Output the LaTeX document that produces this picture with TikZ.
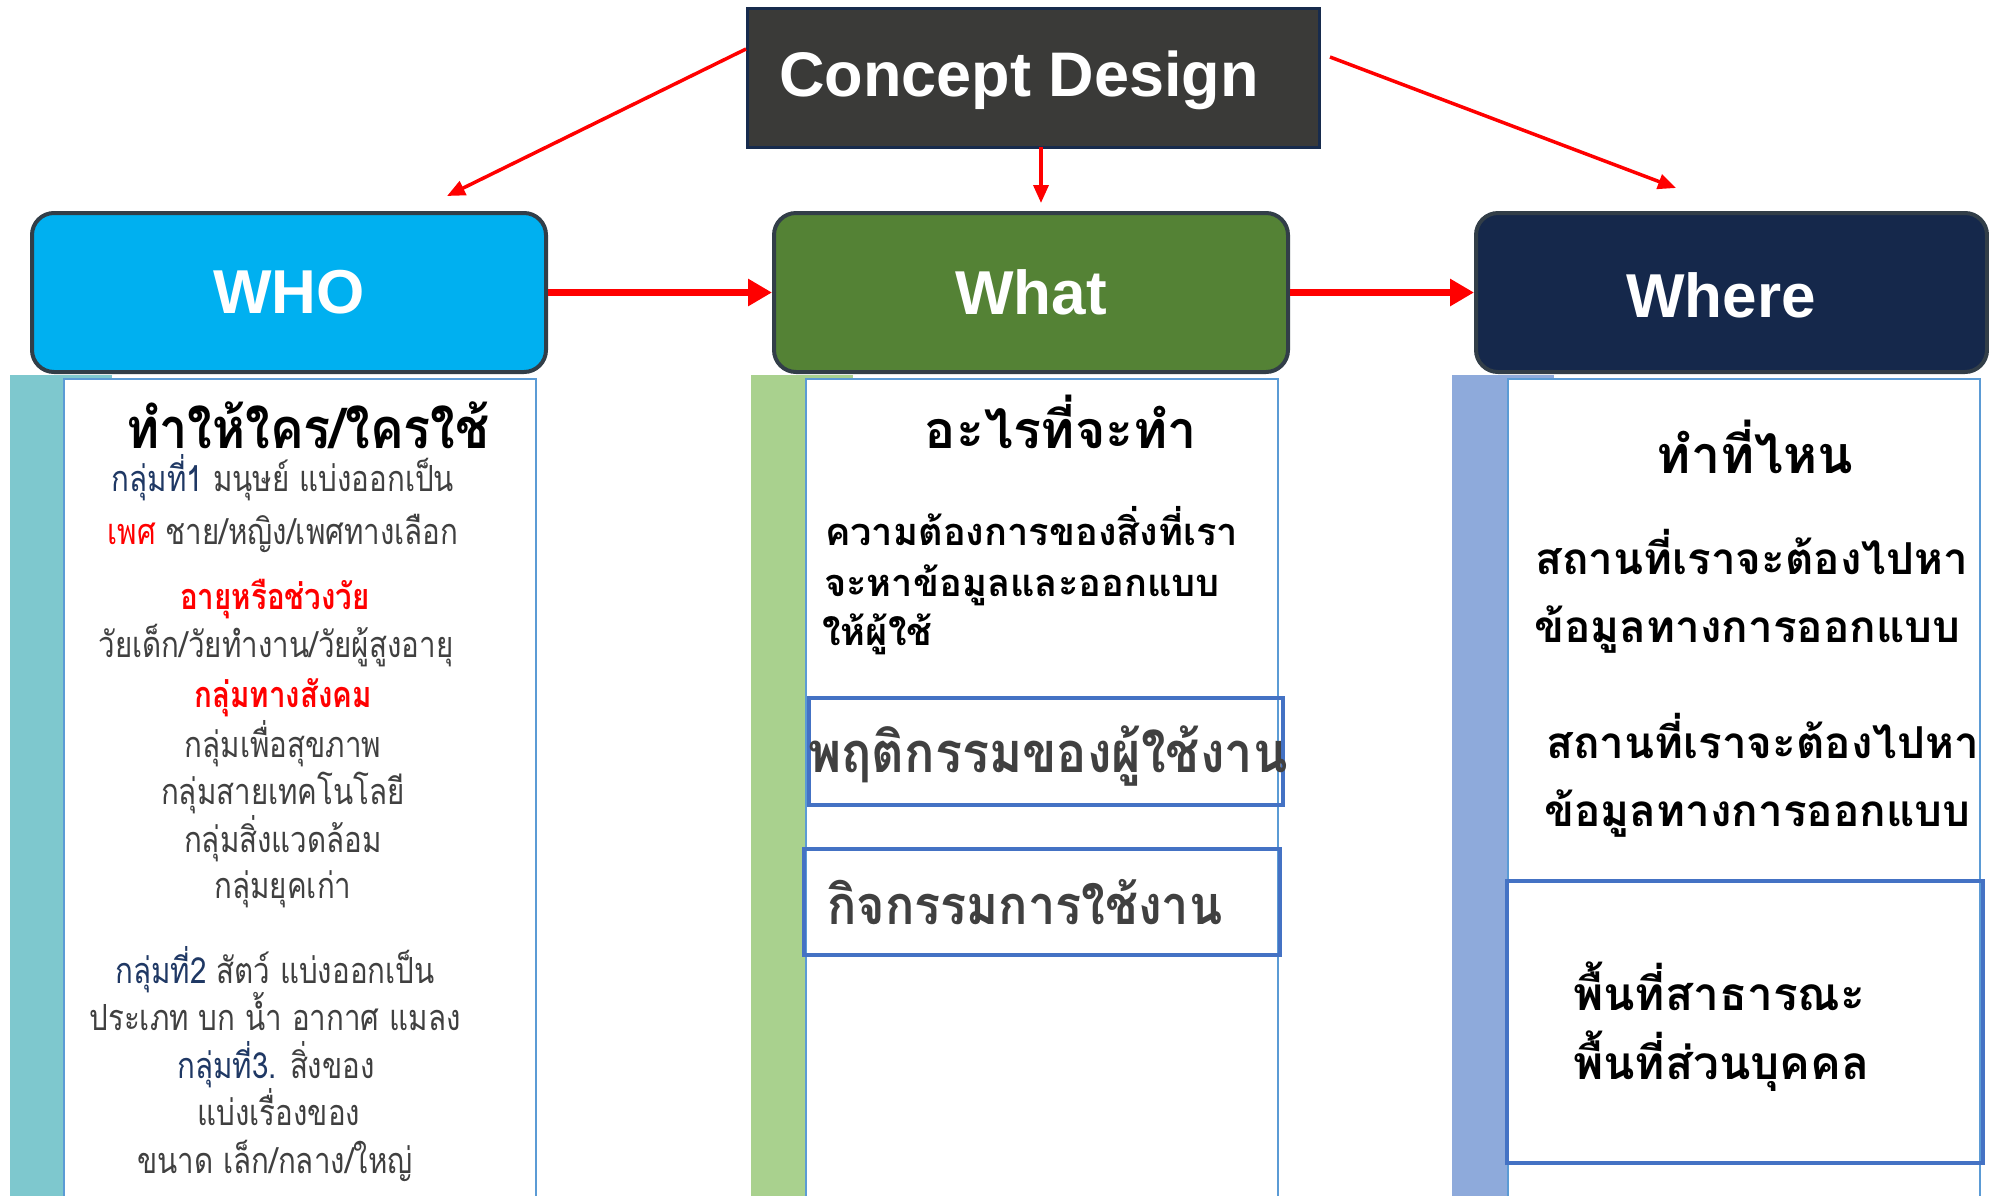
\documentclass[tikz,border=0pt]{standalone}
\usepackage{fontspec}
\setmainfont{Liberation Sans}
\newfontfamily\thai[Script=Thai]{Loma}
\newfontfamily\thaic[Script=Thai,FakeStretch=0.82]{Loma}
\newfontfamily\thaih[Script=Thai,FakeStretch=0.9]{Loma}
\usetikzlibrary{arrows.meta}
\definecolor{conceptfill}{HTML}{3A3A38}
\definecolor{conceptedge}{HTML}{172B4D}
\definecolor{whofill}{HTML}{00B0F0}
\definecolor{whatfill}{HTML}{548235}
\definecolor{wherefill}{HTML}{15284B}
\definecolor{boxedge}{HTML}{323E48}
\definecolor{tealstrip}{HTML}{7EC8CE}
\definecolor{greenstrip}{HTML}{A9D18E}
\definecolor{bluestrip}{HTML}{8EAADB}
\definecolor{paneledge}{HTML}{5B9BD5}
\definecolor{inneredge}{HTML}{4472C4}
\definecolor{navytext}{HTML}{1F3864}
\definecolor{graytext}{HTML}{404040}
\definecolor{arrowred}{HTML}{FF0000}
\tikzset{
  headbox/.style={draw=boxedge, line width=4pt, rounded corners=22pt, minimum width=514pt, minimum height=159pt, text=white, font=\fontsize{62}{70}\selectfont\bfseries, inner sep=0pt},
  panelbox/.style={draw=paneledge, line width=2pt, fill=white, anchor=north west, inner sep=0pt},
  innerbox/.style={draw=inneredge, line width=4pt, anchor=north west, inner sep=0pt},
  stripbox/.style={fill=#1, anchor=north west, inner sep=0pt, minimum width=102pt, minimum height=830pt},
  thinarrow/.style={draw=arrowred, line width=3.5pt, -{Triangle[length=18pt,width=15pt]}},
  thickarrow/.style={draw=arrowred, line width=7pt, -{Triangle[length=24pt,width=26pt]}},
  tbody/.style={inner sep=0pt, anchor=base, text=graytext, font=\thaic\fontsize{36}{42}\selectfont},
  tbodybold/.style={tbody, font=\thaic\fontsize{36}{42}\selectfont\bfseries},
  thead/.style={inner sep=0pt, anchor=base, text=black, font=\thai\fontsize{52}{60}\selectfont\bfseries},
  theadc/.style={inner sep=0pt, anchor=base, text=black, font=\thaih\fontsize{56}{64}\selectfont\bfseries},
  tpara/.style={inner sep=0pt, anchor=base west, text=black, font=\thai\fontsize{38}{46}\selectfont\bfseries},
  tbig/.style={inner sep=0pt, anchor=base west, text=graytext, font=\thaih\fontsize{56}{64}\selectfont\bfseries},
  tright/.style={inner sep=0pt, anchor=base west, text=black, font=\thai\fontsize{44}{52}\selectfont\bfseries},
}
\begin{document}
\begin{tikzpicture}[x=1pt,y=-1pt]
\useasboundingbox (0,0) rectangle (1989,1195);
% top concept box
\node[draw=conceptedge, line width=3pt, fill=conceptfill, minimum width=572pt, minimum height=139pt, inner sep=0pt] (concept) at (1033,77.5) {};
\node[text=white, font=\fontsize{63}{70}\selectfont\bfseries, inner sep=0pt, anchor=base] (conceptlabel) at (1019,96) {Concept Design};
% three head boxes
\node[headbox, fill=whofill] (who) at (289,292.5) {WHO};
\node[headbox, fill=whatfill] (what) at (1031,292.5) {What};
\node[headbox, fill=wherefill, minimum width=511pt] (where) at (1731.5,292.5) {};
\node[text=white, font=\fontsize{62}{70}\selectfont\bfseries, inner sep=0pt] (wherelabel) at (1721,295) {Where};
% arrows
\coordinate (cL) at (746,49);
\coordinate (cLtip) at (447,196);
\coordinate (cM) at (1041,147);
\coordinate (cMtip) at (1041,203);
\coordinate (cR) at (1330,57);
\coordinate (cRtip) at (1676,188);
\draw[thinarrow] (cL) -- (cLtip);
\draw[thinarrow] (cM) -- (cMtip);
\draw[thinarrow] (cR) -- (cRtip);
\draw[thickarrow] (who.east) -- (what.west);
\draw[thickarrow] (what.east) -- (where.west);
% strips and panels
\node[stripbox=tealstrip] (whostrip) at (10,375) {};
\node[stripbox=greenstrip] (whatstrip) at (751,375) {};
\node[stripbox=bluestrip] (wherestrip) at (1452,375) {};
\node[panelbox, minimum width=472pt, minimum height=830pt] (whopanel) at (63,378) {};
\node[panelbox, minimum width=472pt, minimum height=830pt] (whatpanel) at (805,378) {};
\node[panelbox, minimum width=472pt, minimum height=830pt] (wherepanel) at (1507,378) {};
\node[innerbox, minimum width=474pt, minimum height=107pt] (behavbox) at (807,696) {};
\node[innerbox, minimum width=476pt, minimum height=106pt] (actbox) at (802,847) {};
\node[innerbox, minimum width=476pt, minimum height=282pt] (spacebox) at (1505,879) {};
% left panel text
\node[theadc] (whohead) at (308,448) {ทำให้ใคร/ใครใช้};
\node[tbody] (w1) at (283,491) {{\color{navytext}กลุ่มที่1} มนุษย์ แบ่งออกเป็น};
\node[tbody] (w2) at (283,544) {{\color{arrowred}เพศ} ชาย/หญิง/เพศทางเลือก};
\node[tbodybold, text=arrowred] (w3) at (275,609) {อายุหรือช่วงวัย};
\node[tbody] (w4) at (276,657) {วัยเด็ก/วัยทำงาน/วัยผู้สูงอายุ};
\node[tbodybold, text=arrowred] (w5) at (283,707) {กลุ่มทางสังคม};
\node[tbody] (w6) at (283,757) {กลุ่มเพื่อสุขภาพ};
\node[tbody] (w7) at (283,804) {กลุ่มสายเทคโนโลยี};
\node[tbody] (w8) at (283,852) {กลุ่มสิ่งแวดล้อม};
\node[tbody] (w9) at (283,898) {กลุ่มยุคเก่า};
\node[tbody] (w10) at (275,983) {{\color{navytext}กลุ่มที่2} สัตว์ แบ่งออกเป็น};
\node[tbody] (w11) at (275,1030) {ประเภท บก น้ำ อากาศ แมลง};
\node[tbody] (w12) at (276,1078) {{\color{navytext}กลุ่มที่3.} สิ่งของ};
\node[tbody] (w13) at (279,1125) {แบ่งเรื่องของ};
\node[tbody] (w14) at (275,1173) {ขนาด เล็ก/กลาง/ใหญ่};
% middle panel text
\node[thead] (whathead) at (1061,448) {อะไรที่จะทำ};
\node[tpara] (p1) at (825,545) {ความต้องการของสิ่งที่เรา};
\node[tpara] (p2) at (824,596) {จะหาข้อมูลและออกแบบ};
\node[tpara] (p3) at (822,645) {ให้ผู้ใช้};
\node[tbig] (behavtext) at (808,772) {พฤติกรรมของผู้ใช้งาน};
\node[tbig, font=\thaih\fontsize{54}{62}\selectfont\bfseries] (acttext) at (827,924) {กิจกรรมการใช้งาน};
% right panel text
\node[thead] (wherehead) at (1755,473) {ทำที่ไหน};
\node[tright] (r1) at (1535,574) {สถานที่เราจะต้องไปหา};
\node[tright] (r2) at (1534,642) {ข้อมูลทางการออกแบบ};
\node[tright] (r3) at (1546,758) {สถานที่เราจะต้องไปหา};
\node[tright] (r4) at (1544,826) {ข้อมูลทางการออกแบบ};
\node[tright, font=\thai\fontsize{46}{52}\selectfont\bfseries] (r5) at (1573,1010) {พื้นที่สาธารณะ};
\node[tright, font=\thai\fontsize{46}{52}\selectfont\bfseries] (r6) at (1573,1079) {พื้นที่ส่วนบุคคล};
\end{tikzpicture}
\end{document}
